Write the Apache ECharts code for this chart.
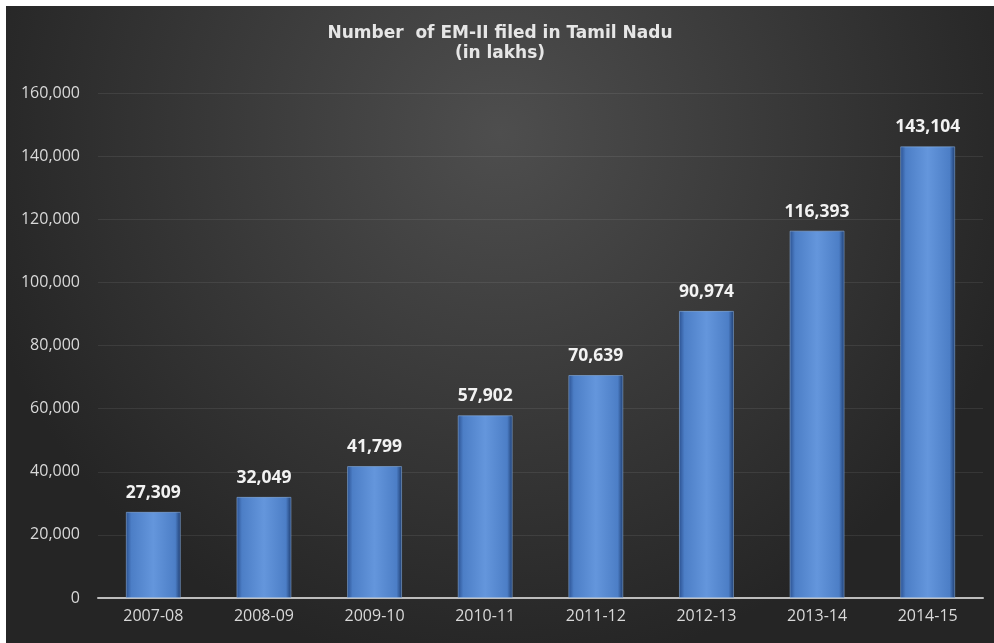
<!DOCTYPE html>
<html><head><meta charset="utf-8">
<script src="https://cdn.jsdelivr.net/npm/echarts@6/dist/echarts.min.js"></script>
<style>
html,body{margin:0;padding:0;background:#fff;width:994px;height:643px;overflow:hidden}
#c{position:absolute;left:6px;top:6px;width:988px;height:637px}
</style></head>
<body><div id="c"></div>
<script>
const categories = ["2007-08","2008-09","2009-10","2010-11","2011-12","2012-13","2013-14","2014-15"];
const values = [27309,32049,41799,57902,70639,90974,116393,143104];
const titleText = "Number  of EM-II filed in Tamil Nadu\n(in lakhs)";

const chart = echarts.init(document.getElementById('c'));
const fmt = v => v.toLocaleString('en-US');
chart.setOption({
  backgroundColor: {type:'radial', x:0.5, y:0.2, r:0.85, colorStops:[{offset:0,color:'#4e4e4e'},{offset:1,color:'#252525'}]},
  title: {text: titleText, left: 'center', top: 13,
    textStyle:{color:'#e6e6e6', fontFamily:'DejaVu Sans', fontWeight:'bold', fontSize:17, lineHeight:20}},
  grid: {left: 92, right: 11, top: 87, bottom: 45},
  xAxis: {type:'category', data: categories,
    axisLine:{lineStyle:{color:'#bdbdbd', width:2}}, axisTick:{show:false},
    axisLabel:{color:'#d9d9d9', fontFamily:'Open Sans', fontSize:16, margin:10}},
  yAxis: {type:'value', min:0, max:160000, interval:20000,
    axisLine:{show:false}, axisTick:{show:false},
    splitLine:{lineStyle:{color:'rgba(255,255,255,0.08)', width:1}},
    axisLabel:{color:'#d9d9d9', fontFamily:'Open Sans', fontSize:16, margin:18, formatter: v => fmt(v)}},
  series: [{type:'bar', data: values, barWidth: 55,
    itemStyle:{color:{type:'linear', x:0, y:0, x2:1, y2:0, colorStops:[
      {offset:0,color:'#2a5090'},{offset:0.1,color:'#4c7ec6'},{offset:0.5,color:'#6496dc'},{offset:0.9,color:'#4c7ec6'},{offset:1,color:'#1d3b6d'}]},
      borderColor:'rgba(150,190,240,0.5)', borderWidth:1},
    label:{show:true, position:'top', distance:10, color:'#f2f2f2', fontFamily:'Open Sans', fontWeight:'bold', fontSize:17.5,
      formatter: p => fmt(p.value)}
  }]
});
</script></body></html>
